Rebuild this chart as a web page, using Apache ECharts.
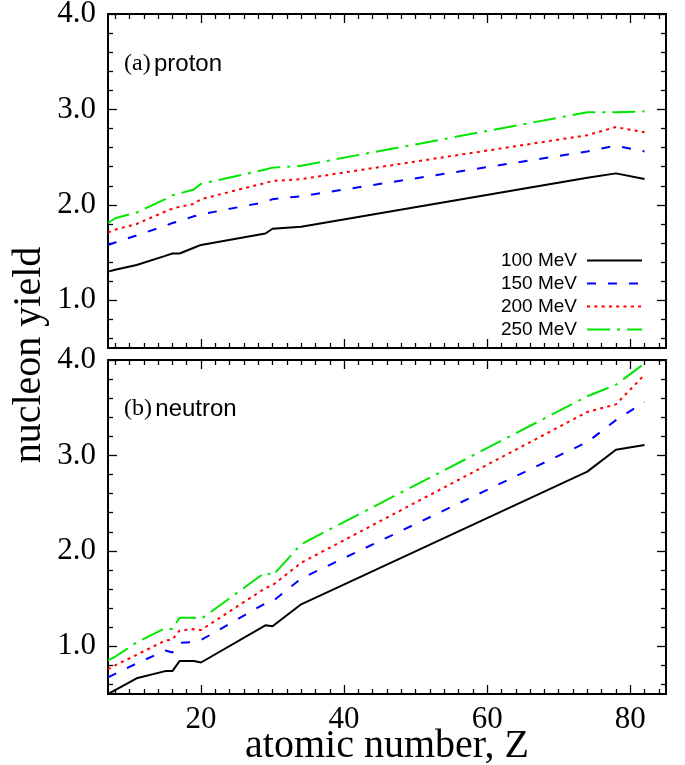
<!DOCTYPE html>
<html>
<head>
<meta charset="utf-8">
<script src="https://cdn.jsdelivr.net/npm/echarts@6/dist/echarts.min.js"></script>
<style>
    html, body { margin: 0; padding: 0; background: #fff; }
    #chart { width: 685px; height: 765px; }
</style>
</head>
<body>
<div id="chart"></div>
<script>
// atomic numbers where the curves have points
const zValues = [7, 8, 11, 15, 16, 17, 19, 20, 29, 30, 34, 74, 78, 82];
const energies = ['100 MeV', '150 MeV', '200 MeV', '250 MeV'];

// (a) proton yield
const proton100 = [1.30, 1.32, 1.37, 1.465, 1.49, 1.49, 1.55, 1.58, 1.70, 1.75, 1.77, 2.285, 2.33, 2.27];
const proton150 = [1.58, 1.605, 1.68, 1.78, 1.81, 1.83, 1.88, 1.90, 2.03, 2.06, 2.09, 2.56, 2.62, 2.56];
const proton200 = [1.71, 1.74, 1.80, 1.93, 1.96, 1.98, 2.01, 2.06, 2.23, 2.25, 2.27, 2.73, 2.815, 2.76];
const proton250 = [1.81, 1.86, 1.92, 2.06, 2.10, 2.12, 2.16, 2.22, 2.37, 2.39, 2.41, 2.97, 2.97, 2.98];

// (b) neutron yield
const neutron100 = [0.50, 0.54, 0.665, 0.74, 0.74, 0.845, 0.845, 0.83, 1.22, 1.21, 1.44, 2.83, 3.06, 3.11];
const neutron150 = [0.675, 0.71, 0.82, 0.955, 0.935, 1.035, 1.045, 1.065, 1.45, 1.47, 1.71, 3.14, 3.37, 3.56];
const neutron200 = [0.76, 0.80, 0.91, 1.06, 1.07, 1.165, 1.18, 1.17, 1.61, 1.64, 1.875, 3.455, 3.535, 3.845];
const neutron250 = [0.855, 0.89, 1.04, 1.19, 1.18, 1.30, 1.30, 1.285, 1.775, 1.74, 2.07, 3.62, 3.74, 3.965];

// ticks
const xLabelValues = [20, 40, 60, 80];
const xMinorValues = [8, 10, 12, 14, 16, 18, 22, 24, 26, 28, 30, 32, 34, 36, 38, 42, 44, 46, 48, 50, 52, 54, 56, 58, 62, 64, 66, 68, 70, 72, 74, 76, 78, 82, 84];
const yLabelValues = [1, 2, 3, 4];
const yMinorValues = [0.6, 0.8, 1.2, 1.4, 1.6, 1.8, 2.2, 2.4, 2.6, 2.8, 3.2, 3.4, 3.6, 3.8];

const lineColors = ['#000000', '#0000ff', '#ff0000', '#00e600'];
const lineDashes = ['solid', [9, 12], [3, 4.3], [23, 7, 3, 7]];

const serif = 'Liberation Serif';
const sans = 'Liberation Sans';

function makeX(grid, pos, ticks, len, labeled) {
    return {
        type: 'value', gridIndex: grid, position: pos, min: 7, max: 85,
        axisLine: {show: true, onZero: false, lineStyle: {color: '#000', width: 2}},
        axisTick: {show: true, inside: true, length: len, customValues: ticks, lineStyle: {color: '#000', width: 1.3}},
        axisLabel: {show: labeled, customValues: xLabelValues, margin: 10, color: '#000', fontFamily: serif, fontSize: 31},
        splitLine: {show: false}
    };
}

function makeY(grid, pos, ticks, len, labeled) {
    return {
        type: 'value', gridIndex: grid, position: pos, min: 0.5, max: 4,
        axisLine: {show: true, onZero: false, lineStyle: {color: '#000', width: 2}},
        axisTick: {show: true, inside: true, length: len, customValues: ticks, lineStyle: {color: '#000', width: 1.3}},
        axisLabel: {
            show: labeled, customValues: yLabelValues, margin: 12, color: '#000',
            fontFamily: serif, fontSize: 31, formatter: v => v.toFixed(1)
        },
        splitLine: {show: false}
    };
}

const xAxes = [];
const yAxes = [];
[0, 1].forEach(g => {
    xAxes.push(makeX(g, 'bottom', xLabelValues, 9, g === 1));
    xAxes.push(makeX(g, 'bottom', xMinorValues, 5, false));
    xAxes.push(makeX(g, 'top', xLabelValues, 9, false));
    xAxes.push(makeX(g, 'top', xMinorValues, 5, false));
    yAxes.push(makeY(g, 'left', yLabelValues, 9, true));
    yAxes.push(makeY(g, 'left', yMinorValues, 5, false));
    yAxes.push(makeY(g, 'right', yLabelValues, 9, false));
    yAxes.push(makeY(g, 'right', yMinorValues, 5, false));
});
xAxes[4].name = 'atomic number, Z';
xAxes[4].nameLocation = 'middle';
xAxes[4].nameGap = 32;
xAxes[4].nameMoveOverlap = false;
xAxes[4].nameTextStyle = {fontFamily: serif, fontSize: 40, color: '#000'};

const panels = [
    [proton100, proton150, proton200, proton250],
    [neutron100, neutron150, neutron200, neutron250]
];

const series = [];
panels.forEach((sets, g) => {
    sets.forEach((vals, i) => {
        series.push({
            type: 'line',
            name: energies[i],
            xAxisIndex: g * 4,
            yAxisIndex: g * 4,
            data: zValues.map((z, k) => [z, vals[k]]),
            symbol: 'none',
            silent: true,
            lineStyle: {color: lineColors[i], width: 2, type: lineDashes[i]},
            itemStyle: {color: lineColors[i]}
        });
    });
});

const chart = echarts.init(document.getElementById('chart'));
chart.setOption({
    animation: false,
    backgroundColor: '#fff',
    grid: [
        {left: 108, right: 19, top: 14, height: 334, outerBoundsMode: 'none'},
        {left: 108, right: 19, top: 360, height: 334, outerBoundsMode: 'none'}
    ],
    xAxis: xAxes,
    yAxis: yAxes,
    legend: {
        data: energies,
        orient: 'vertical',
        right: 37,
        top: 246,
        align: 'right',
        itemWidth: 55,
        itemHeight: 14,
        itemGap: 4,
        selectedMode: false,
        itemStyle: {opacity: 0},
        textStyle: {fontFamily: sans, fontSize: 19, lineHeight: 19, color: '#000', padding: [0, 5, 0, 0]}
    },
    graphic: [
        {
            type: 'text', x: 29, y: 355, rotation: Math.PI / 2,
            style: {text: 'nucleon yield', font: '40px "Liberation Serif"', fill: '#000', textAlign: 'center', textVerticalAlign: 'middle'}
        },
        {
            type: 'text', x: 124, y: 64,
            style: {
                text: '{s|(a)} {n|proton}', textVerticalAlign: 'middle',
                rich: {s: {fontFamily: serif, fontSize: 24, fill: '#000'}, n: {fontFamily: sans, fontSize: 24, fill: '#000'}}
            }
        },
        {
            type: 'text', x: 124, y: 409,
            style: {
                text: '{s|(b)} {n|neutron}', textVerticalAlign: 'middle',
                rich: {s: {fontFamily: serif, fontSize: 24, fill: '#000'}, n: {fontFamily: sans, fontSize: 24, fill: '#000'}}
            }
        }
    ],
    series: series
});
</script>
</body>
</html>
